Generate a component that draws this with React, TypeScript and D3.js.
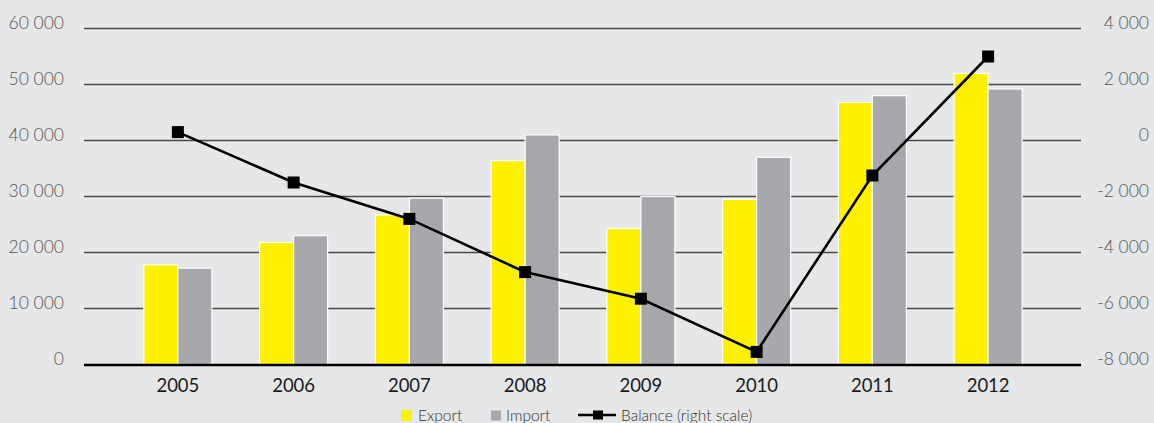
import React from "react";
import * as d3 from "d3";

const years = ["2005", "2006", "2007", "2008", "2009", "2010", "2011", "2012"];
const exportValues = [17800, 21800, 26700, 36400, 24300, 29500, 46800, 52000];
const importValues = [17200, 23000, 29700, 41000, 30000, 37000, 48000, 49200];
const balanceValues = [300, -1500, -2800, -4700, -5650, -7550, -1250, 3000];
const leftTicks = [0, 10000, 20000, 30000, 40000, 50000, 60000];
const rightTicks = [-8000, -6000, -4000, -2000, 0, 2000, 4000];
const seriesKeys = ["Export", "Import"];

const W = 1154;
const H = 423;
const BG = "#E6E7E9";
const YELLOW = "#FFF100";
const GRAY = "#A7A8AB";
const FONT = "Lato, 'DejaVu Sans', sans-serif";

const fmt = (v: number) => {
  const s = d3.format(",")(Math.abs(v)).replace(/,/g, " ");
  return (v < 0 ? "-" : "") + s;
};

export default function App() {
  const gridLeft = 84;
  const gridRight = 1081;
  const yTop = 28.5;
  const yBottom = 364.5;

  const x0 = d3
    .scaleBand<string>()
    .domain(years)
    .range([120, 1046])
    .paddingInner(0.412)
    .paddingOuter(0.206);
  const x1 = d3.scaleBand<string>().domain(seriesKeys).range([0, x0.bandwidth()]);
  const yL = d3.scaleLinear().domain([0, 60000]).range([yBottom, yTop]);
  const yR = d3.scaleLinear().domain([-8000, 4000]).range([yBottom, yTop]);
  const cx = (y: string) => (x0(y) as number) + x0.bandwidth() / 2;

  const line = d3
    .line<number>()
    .x((_, i) => cx(years[i]))
    .y((d) => yR(d));

  const ms = 12;

  return (
    <svg
      width={W}
      height={H}
      style={{ position: "fixed", left: 0, top: 0, display: "block" }}
      fontFamily={FONT}
    >
      <rect x={0} y={0} width={W} height={H} fill={BG} />
      {leftTicks.slice(1).map((t) => (
        <line
          key={"g" + t}
          x1={gridLeft}
          x2={gridRight}
          y1={yL(t)}
          y2={yL(t)}
          stroke="#4a4a4a"
          strokeWidth={1.4}
        />
      ))}
      {leftTicks.map((t) => (
        <text
          key={"l" + t}
          x={64}
          y={yL(t) + 0.5}
          textAnchor="end"
          fontSize={17.5}
          fontWeight={300}
          fill="#555"
        >
          {fmt(t)}
        </text>
      ))}
      {rightTicks.map((t) => (
        <text
          key={"r" + t}
          x={1149}
          y={yR(t) + 0.5}
          textAnchor="end"
          fontSize={17.5}
          fontWeight={300}
          fill="#555"
        >
          {fmt(t)}
        </text>
      ))}
      {years.map((yr, i) => (
        <g key={"b" + yr} transform={`translate(${x0(yr)},0)`}>
          <rect
            x={x1("Export")}
            y={yL(exportValues[i])}
            width={x1.bandwidth()}
            height={yBottom - yL(exportValues[i])}
            fill={YELLOW}
            stroke="#fff"
            strokeWidth={1.2}
          />
          <rect
            x={x1("Import")}
            y={yL(importValues[i])}
            width={x1.bandwidth()}
            height={yBottom - yL(importValues[i])}
            fill={GRAY}
            stroke="#fff"
            strokeWidth={1.2}
          />
        </g>
      ))}
      <line
        x1={gridLeft}
        x2={gridRight}
        y1={yBottom + 0.5}
        y2={yBottom + 0.5}
        stroke="#000"
        strokeWidth={2.6}
      />
      <path d={line(balanceValues) || ""} fill="none" stroke="#000" strokeWidth={2.6} />
      {balanceValues.map((v, i) => (
        <rect
          key={"m" + i}
          x={cx(years[i]) - ms / 2}
          y={yR(v) - ms / 2}
          width={ms}
          height={ms}
          fill="#000"
        />
      ))}
      {years.map((yr) => (
        <text
          key={"y" + yr}
          x={cx(yr)}
          y={391.5}
          textAnchor="middle"
          fontSize={18.5}
          fill="#1a1a1a"
        >
          {yr}
        </text>
      ))}
      <rect x={401} y={410} width={11} height={11} fill={YELLOW} />
      <text x={418} y={421} fontSize={15.5} fontWeight={300} fill="#333">
        Export
      </text>
      <rect x={491} y={410.5} width={10} height={10} fill={GRAY} />
      <text x={506} y={421} fontSize={15.5} fontWeight={300} fill="#333">
        Import
      </text>
      <line x1={578} x2={616} y1={415} y2={415} stroke="#000" strokeWidth={2.6} />
      <rect x={593} y={410.5} width={10} height={9} fill="#000" />
      <text x={621} y={421} fontSize={15.5} fontWeight={300} fill="#333">
        Balance (right scale)
      </text>
    </svg>
  );
}
